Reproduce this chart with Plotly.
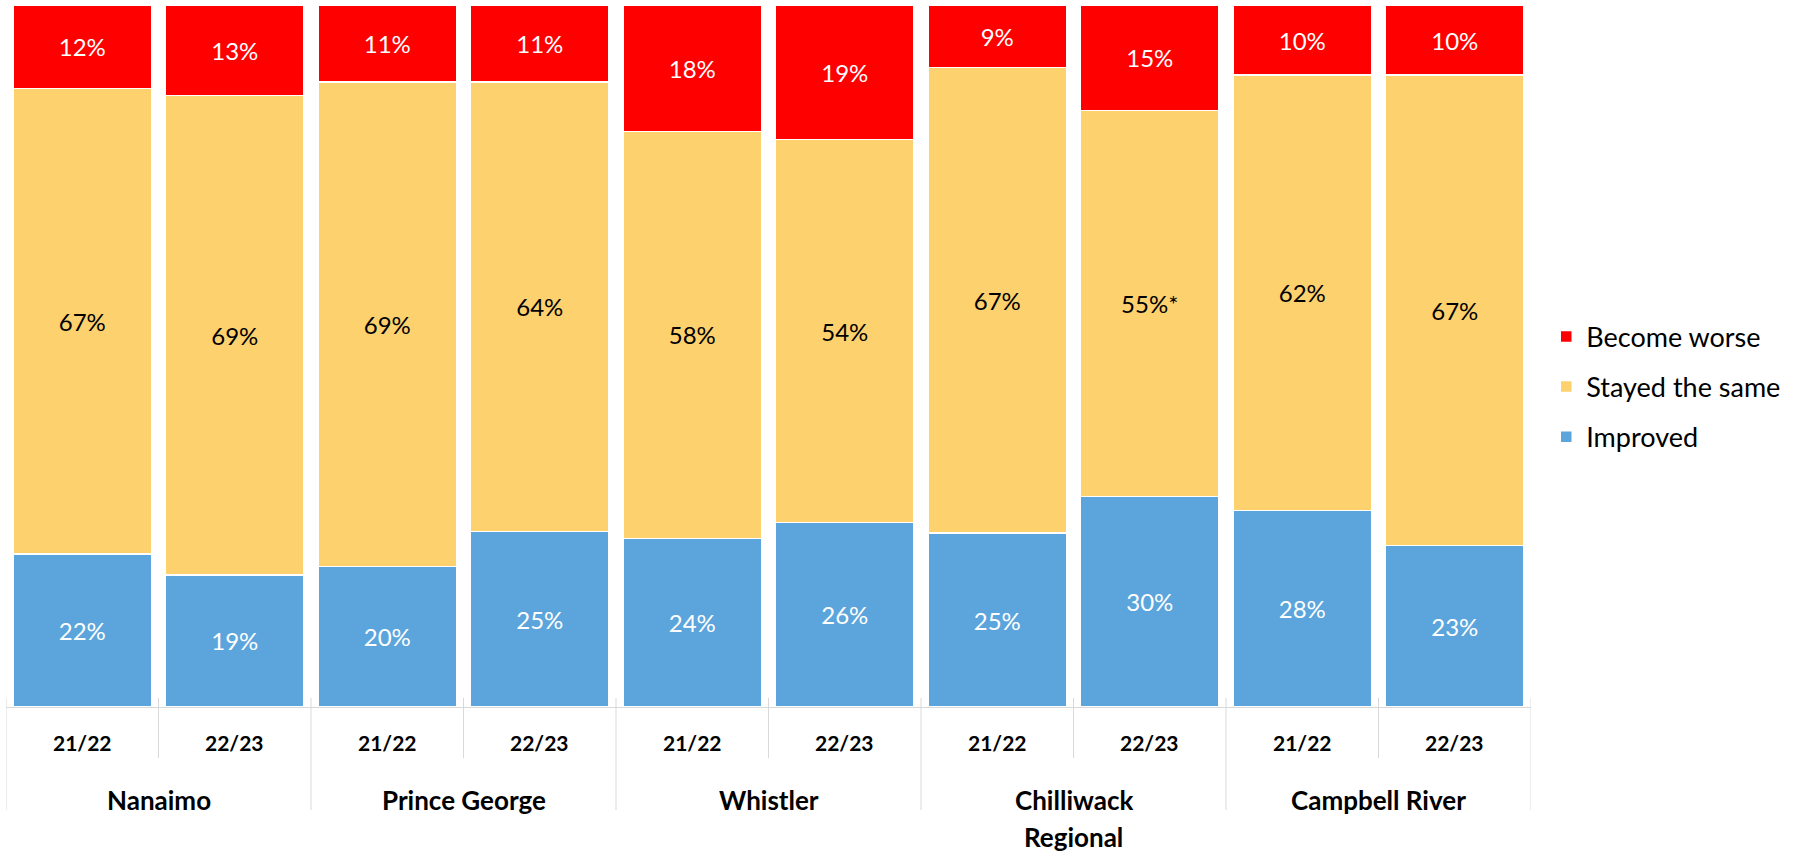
import plotly.graph_objects as go

# Survey response shares by city and fiscal year
cities = ["Nanaimo", "Prince George", "Whistler", "Chilliwack<br>Regional", "Campbell River"]
years = ["21/22", "22/23"]

improved = [22, 19, 20, 25, 24, 26, 25, 30, 28, 23]
stayed = [67, 69, 69, 64, 58, 54, 67, 55, 62, 67]
worse = [12, 13, 11, 11, 18, 19, 9, 15, 10, 10]

improved_labels = [f"{v}%" for v in improved]
stayed_labels = [f"{v}%" for v in stayed]
stayed_labels[7] = "55%*"
worse_labels = [f"{v}%" for v in worse]

FONT = "Lato"
GRID = "#D9D9D9"

# one category per city/year pair
keys = [f"{c} {y}" for c in cities for y in years]

series = [
    ("Improved", improved, improved_labels, "#5BA5DC", "white", 3),
    ("Stayed the same", stayed, stayed_labels, "#FDD26E", "black", 2),
    ("Become worse", worse, worse_labels, "#FF0000", "white", 1),
]

fig = go.Figure()
for i, (name, vals, labels, color, tcolor, rank) in enumerate(series):
    fig.add_trace(go.Bar(
        x=keys, y=vals, name=name, text=labels,
        texttemplate="%{text}", textposition="inside", insidetextanchor="middle",
        textfont=dict(family=FONT, size=24, color=tcolor),
        marker=dict(color=color, line=dict(color="white", width=1.5)),
        legendgroup=f"g{i}", legendrank=rank, hoverinfo="skip",
    ))

annotations = []
shapes = []
n = len(keys)
# year labels and short dividers between bars
for i, k in enumerate(keys):
    annotations.append(dict(
        x=i, y=-0.05, xref="x", yref="paper", text=years[i % 2],
        showarrow=False, yanchor="middle",
        font=dict(family=FONT, size=21, color="black", weight="bold"),
    ))
for b in range(n + 1):
    bottom = -0.1467 if b % 2 == 0 else -0.0726
    shapes.append(dict(
        type="line", xref="x", yref="paper", x0=b - 0.5, x1=b - 0.5,
        y0=0.0128, y1=bottom, line=dict(color=GRID, width=1),
    ))
# city labels centred under each pair of bars (long names wrap onto a second line)
for j, c in enumerate(cities):
    for k, line in enumerate(c.split("<br>")):
        annotations.append(dict(
            x=2 * j + 0.5, y=-0.1325 - 0.053 * k, xref="x", yref="paper", text=line,
            showarrow=False, yanchor="middle", align="center", borderpad=0,
            font=dict(family=FONT, size=26, color="black", weight="bold"),
        ))

fig.update_layout(
    barmode="stack", barnorm="percent", bargap=0.095,
    width=1795, height=857,
    margin=dict(l=6, r=264, t=5, b=150),
    paper_bgcolor="white", plot_bgcolor="white",
    font=dict(family=FONT, color="black"),
    uniformtext=dict(minsize=24, mode="show"),
    legend=dict(
        x=1.01, xanchor="left", y=0.456, yanchor="middle",
        traceorder="grouped", tracegroupgap=12,
        font=dict(family=FONT, size=27, color="black"),
        itemwidth=30,
    ),
    showlegend=True,
    annotations=annotations,
    shapes=shapes,
)
fig.update_xaxes(
    type="category", showticklabels=False, ticks="",
    showline=True, linecolor=GRID, linewidth=1, showgrid=False,
    range=[-0.5, n - 0.5],
)
fig.update_yaxes(visible=False, range=[0, 100], showgrid=False)

fig.write_html("out.html")
